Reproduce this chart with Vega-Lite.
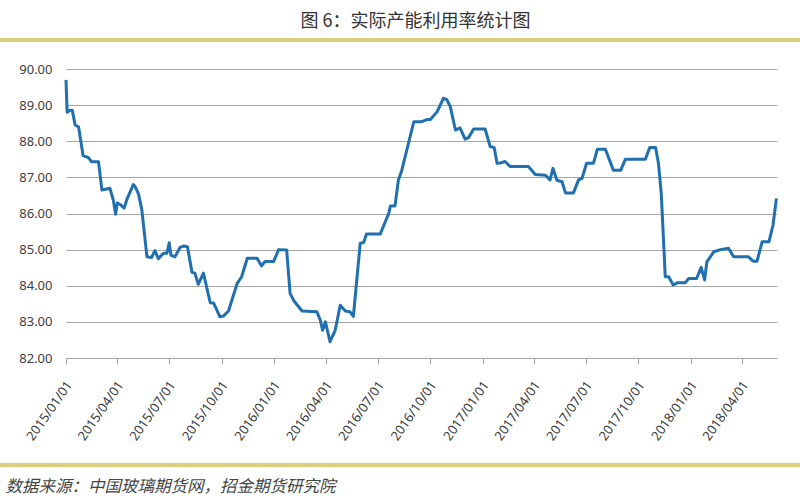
{
  "$schema": "https://vega.github.io/schema/vega-lite/v6.json",
  "width": 711,
  "height": 289,
  "autosize": "none",
  "padding": {"left": 66, "top": 69, "right": 23, "bottom": 142},
  "background": "white",
  "title": {
    "text": "图 6：实际产能利用率统计图",
    "anchor": "middle",
    "dx": -6,
    "offset": 7,
    "font": "Noto Sans CJK SC",
    "fontSize": 18,
    "fontWeight": "normal",
    "color": "#333333"
  },
  "config": {"view": {"stroke": null}},
  "layer": [
    {
      "data": {
        "values": [
          {"date": "2015-01-01", "rate": 89.7},
          {"date": "2015-01-03", "rate": 88.8},
          {"date": "2015-01-08", "rate": 88.86},
          {"date": "2015-01-12", "rate": 88.86},
          {"date": "2015-01-17", "rate": 88.45},
          {"date": "2015-01-23", "rate": 88.4},
          {"date": "2015-01-31", "rate": 87.6},
          {"date": "2015-02-09", "rate": 87.55},
          {"date": "2015-02-15", "rate": 87.43},
          {"date": "2015-02-27", "rate": 87.43},
          {"date": "2015-03-05", "rate": 86.65},
          {"date": "2015-03-19", "rate": 86.7},
          {"date": "2015-03-25", "rate": 86.37},
          {"date": "2015-03-29", "rate": 85.98},
          {"date": "2015-04-01", "rate": 86.29},
          {"date": "2015-04-06", "rate": 86.25},
          {"date": "2015-04-13", "rate": 86.15},
          {"date": "2015-04-18", "rate": 86.4},
          {"date": "2015-04-29", "rate": 86.8},
          {"date": "2015-05-02", "rate": 86.75},
          {"date": "2015-05-08", "rate": 86.55},
          {"date": "2015-05-14", "rate": 86.1},
          {"date": "2015-05-23", "rate": 84.8},
          {"date": "2015-05-31", "rate": 84.78},
          {"date": "2015-06-06", "rate": 84.97},
          {"date": "2015-06-12", "rate": 84.75},
          {"date": "2015-06-21", "rate": 84.9},
          {"date": "2015-06-27", "rate": 84.9},
          {"date": "2015-07-01", "rate": 85.19},
          {"date": "2015-07-04", "rate": 84.85},
          {"date": "2015-07-11", "rate": 84.8},
          {"date": "2015-07-20", "rate": 85.06},
          {"date": "2015-07-26", "rate": 85.1},
          {"date": "2015-08-02", "rate": 85.08},
          {"date": "2015-08-10", "rate": 84.37},
          {"date": "2015-08-15", "rate": 84.35},
          {"date": "2015-08-21", "rate": 84.04},
          {"date": "2015-08-30", "rate": 84.35},
          {"date": "2015-09-11", "rate": 83.53},
          {"date": "2015-09-17", "rate": 83.52},
          {"date": "2015-09-28", "rate": 83.14},
          {"date": "2015-10-04", "rate": 83.16},
          {"date": "2015-10-13", "rate": 83.3},
          {"date": "2015-10-28", "rate": 84.06},
          {"date": "2015-11-05", "rate": 84.25},
          {"date": "2015-11-15", "rate": 84.76},
          {"date": "2015-12-02", "rate": 84.76},
          {"date": "2015-12-10", "rate": 84.55},
          {"date": "2015-12-16", "rate": 84.67},
          {"date": "2015-12-31", "rate": 84.67},
          {"date": "2016-01-09", "rate": 85.0},
          {"date": "2016-01-23", "rate": 84.99},
          {"date": "2016-01-29", "rate": 83.79},
          {"date": "2016-02-04", "rate": 83.6},
          {"date": "2016-02-19", "rate": 83.3},
          {"date": "2016-03-16", "rate": 83.28},
          {"date": "2016-03-22", "rate": 83.05},
          {"date": "2016-03-26", "rate": 82.77},
          {"date": "2016-03-31", "rate": 83.0},
          {"date": "2016-04-08", "rate": 82.45},
          {"date": "2016-04-17", "rate": 82.76},
          {"date": "2016-04-26", "rate": 83.46},
          {"date": "2016-05-05", "rate": 83.3},
          {"date": "2016-05-13", "rate": 83.28},
          {"date": "2016-05-19", "rate": 83.15},
          {"date": "2016-05-31", "rate": 85.17},
          {"date": "2016-06-06", "rate": 85.2},
          {"date": "2016-06-11", "rate": 85.43},
          {"date": "2016-07-05", "rate": 85.43},
          {"date": "2016-07-20", "rate": 86.0},
          {"date": "2016-07-23", "rate": 86.21},
          {"date": "2016-07-31", "rate": 86.21},
          {"date": "2016-08-06", "rate": 86.93},
          {"date": "2016-08-12", "rate": 87.2},
          {"date": "2016-09-02", "rate": 88.54},
          {"date": "2016-09-16", "rate": 88.54},
          {"date": "2016-09-25", "rate": 88.6},
          {"date": "2016-10-01", "rate": 88.6},
          {"date": "2016-10-13", "rate": 88.82},
          {"date": "2016-10-24", "rate": 89.19},
          {"date": "2016-10-30", "rate": 89.15},
          {"date": "2016-11-05", "rate": 88.96},
          {"date": "2016-11-14", "rate": 88.31},
          {"date": "2016-11-22", "rate": 88.37},
          {"date": "2016-12-01", "rate": 88.06},
          {"date": "2016-12-07", "rate": 88.1},
          {"date": "2016-12-16", "rate": 88.34},
          {"date": "2017-01-05", "rate": 88.34},
          {"date": "2017-01-14", "rate": 87.85},
          {"date": "2017-01-21", "rate": 87.83},
          {"date": "2017-01-26", "rate": 87.39},
          {"date": "2017-02-01", "rate": 87.4},
          {"date": "2017-02-09", "rate": 87.44},
          {"date": "2017-02-18", "rate": 87.3},
          {"date": "2017-03-22", "rate": 87.3},
          {"date": "2017-04-03", "rate": 87.08},
          {"date": "2017-04-21", "rate": 87.06},
          {"date": "2017-04-29", "rate": 86.93},
          {"date": "2017-05-04", "rate": 87.25},
          {"date": "2017-05-11", "rate": 86.92},
          {"date": "2017-05-20", "rate": 86.88},
          {"date": "2017-05-26", "rate": 86.57},
          {"date": "2017-06-09", "rate": 86.57},
          {"date": "2017-06-18", "rate": 86.93},
          {"date": "2017-06-24", "rate": 86.97},
          {"date": "2017-07-02", "rate": 87.39},
          {"date": "2017-07-14", "rate": 87.39},
          {"date": "2017-07-21", "rate": 87.78},
          {"date": "2017-08-04", "rate": 87.78},
          {"date": "2017-08-18", "rate": 87.2},
          {"date": "2017-08-31", "rate": 87.2},
          {"date": "2017-09-08", "rate": 87.5},
          {"date": "2017-10-13", "rate": 87.5},
          {"date": "2017-10-21", "rate": 87.83},
          {"date": "2017-10-31", "rate": 87.83},
          {"date": "2017-11-05", "rate": 87.4},
          {"date": "2017-11-10", "rate": 86.56},
          {"date": "2017-11-17", "rate": 84.25},
          {"date": "2017-11-23", "rate": 84.25},
          {"date": "2017-12-01", "rate": 84.02},
          {"date": "2017-12-08", "rate": 84.08},
          {"date": "2017-12-22", "rate": 84.08},
          {"date": "2017-12-28", "rate": 84.2},
          {"date": "2018-01-11", "rate": 84.2},
          {"date": "2018-01-19", "rate": 84.51},
          {"date": "2018-01-25", "rate": 84.16},
          {"date": "2018-01-29", "rate": 84.66},
          {"date": "2018-02-10", "rate": 84.94},
          {"date": "2018-02-22", "rate": 85.0},
          {"date": "2018-03-08", "rate": 85.04},
          {"date": "2018-03-17", "rate": 84.8},
          {"date": "2018-04-12", "rate": 84.8},
          {"date": "2018-04-20", "rate": 84.68},
          {"date": "2018-04-27", "rate": 84.68},
          {"date": "2018-05-06", "rate": 85.22},
          {"date": "2018-05-18", "rate": 85.22},
          {"date": "2018-05-25", "rate": 85.68},
          {"date": "2018-05-31", "rate": 86.42}
        ]
      },
      "mark": {"type": "line", "stroke": "#2070b0", "strokeWidth": 3, "strokeJoin": "round"},
      "encoding": {
        "x": {
          "field": "date",
          "type": "temporal",
          "scale": {
            "type": "utc",
            "domain": [
              {"year": 2015, "month": 1, "date": 1, "utc": true},
              {"year": 2018, "month": 6, "date": 1, "utc": true}
            ]
          },
          "axis": {
            "values": [
              {"year": 2015, "month": 1, "date": 1, "utc": true},
              {"year": 2015, "month": 4, "date": 1, "utc": true},
              {"year": 2015, "month": 7, "date": 1, "utc": true},
              {"year": 2015, "month": 10, "date": 1, "utc": true},
              {"year": 2016, "month": 1, "date": 1, "utc": true},
              {"year": 2016, "month": 4, "date": 1, "utc": true},
              {"year": 2016, "month": 7, "date": 1, "utc": true},
              {"year": 2016, "month": 10, "date": 1, "utc": true},
              {"year": 2017, "month": 1, "date": 1, "utc": true},
              {"year": 2017, "month": 4, "date": 1, "utc": true},
              {"year": 2017, "month": 7, "date": 1, "utc": true},
              {"year": 2017, "month": 10, "date": 1, "utc": true},
              {"year": 2018, "month": 1, "date": 1, "utc": true},
              {"year": 2018, "month": 4, "date": 1, "utc": true}
            ],
            "format": "%Y/%m/%d",
            "labelAngle": -55,
            "labelOverlap": false,
            "labelFont": "Noto Sans",
            "labelFontSize": 13,
            "labelColor": "#3a3a3a",
            "labelPadding": 18,
            "labelOffset": 3,
            "grid": false,
            "domainColor": "#a6a6a6",
            "tickColor": "#a6a6a6",
            "tickSize": 6,
            "title": "数据来源：中国玻璃期货网，招金期货研究院",
            "titleFont": "Noto Sans CJK SC",
            "titleFontSize": 16.5,
            "titleFontStyle": "italic",
            "titleFontWeight": "normal",
            "titleColor": "#444444",
            "titleAnchor": "start",
            "titleAlign": "left",
            "titleBaseline": "alphabetic",
            "titleX": -61,
            "titleY": 133
          }
        },
        "y": {
          "field": "rate",
          "type": "quantitative",
          "scale": {"domain": [82, 90], "nice": false, "zero": false},
          "axis": {
            "values": [82, 83, 84, 85, 86, 87, 88, 89, 90],
            "labelOverlap": false,
            "format": ".2f",
            "title": null,
            "domain": false,
            "ticks": false,
            "gridColor": "#a6a6a6",
            "gridWidth": 1,
            "labelFont": "Noto Sans",
            "labelFontSize": 13,
            "labelColor": "#404040",
            "labelPadding": 14
          }
        }
      }
    },
    {
      "data": {"values": [{}]},
      "mark": {"type": "rule", "stroke": "#dbcf7e", "strokeWidth": 4, "clip": false},
      "encoding": {
        "x": {
          "datum": {"year": 2014, "month": 9, "date": 1, "utc": true},
          "type": "temporal",
          "axis": {
            "values": [
              {"year": 2015, "month": 1, "date": 1, "utc": true},
              {"year": 2015, "month": 4, "date": 1, "utc": true},
              {"year": 2015, "month": 7, "date": 1, "utc": true},
              {"year": 2015, "month": 10, "date": 1, "utc": true},
              {"year": 2016, "month": 1, "date": 1, "utc": true},
              {"year": 2016, "month": 4, "date": 1, "utc": true},
              {"year": 2016, "month": 7, "date": 1, "utc": true},
              {"year": 2016, "month": 10, "date": 1, "utc": true},
              {"year": 2017, "month": 1, "date": 1, "utc": true},
              {"year": 2017, "month": 4, "date": 1, "utc": true},
              {"year": 2017, "month": 7, "date": 1, "utc": true},
              {"year": 2017, "month": 10, "date": 1, "utc": true},
              {"year": 2018, "month": 1, "date": 1, "utc": true},
              {"year": 2018, "month": 4, "date": 1, "utc": true}
            ],
            "format": "%Y/%m/%d",
            "labelAngle": -55,
            "labelOverlap": false,
            "labelFont": "Noto Sans",
            "labelFontSize": 13,
            "labelColor": "#3a3a3a",
            "labelPadding": 18,
            "labelOffset": 3,
            "grid": false,
            "domainColor": "#a6a6a6",
            "tickColor": "#a6a6a6",
            "tickSize": 6,
            "title": "数据来源：中国玻璃期货网，招金期货研究院",
            "titleFont": "Noto Sans CJK SC",
            "titleFontSize": 16.5,
            "titleFontStyle": "italic",
            "titleFontWeight": "normal",
            "titleColor": "#444444",
            "titleAnchor": "start",
            "titleAlign": "left",
            "titleBaseline": "alphabetic",
            "titleX": -61,
            "titleY": 133
          }
        },
        "x2": {"datum": {"year": 2018, "month": 7, "date": 20, "utc": true}},
        "y": {
          "datum": 90.8,
          "type": "quantitative",
          "axis": {
            "values": [82, 83, 84, 85, 86, 87, 88, 89, 90],
            "labelOverlap": false,
            "format": ".2f",
            "title": null,
            "domain": false,
            "ticks": false,
            "gridColor": "#a6a6a6",
            "gridWidth": 1,
            "labelFont": "Noto Sans",
            "labelFontSize": 13,
            "labelColor": "#404040",
            "labelPadding": 14
          }
        }
      }
    },
    {
      "data": {"values": [{}]},
      "mark": {"type": "rule", "stroke": "#dbcf7e", "strokeWidth": 4, "clip": false},
      "encoding": {
        "x": {
          "datum": {"year": 2014, "month": 9, "date": 1, "utc": true},
          "type": "temporal",
          "axis": {
            "values": [
              {"year": 2015, "month": 1, "date": 1, "utc": true},
              {"year": 2015, "month": 4, "date": 1, "utc": true},
              {"year": 2015, "month": 7, "date": 1, "utc": true},
              {"year": 2015, "month": 10, "date": 1, "utc": true},
              {"year": 2016, "month": 1, "date": 1, "utc": true},
              {"year": 2016, "month": 4, "date": 1, "utc": true},
              {"year": 2016, "month": 7, "date": 1, "utc": true},
              {"year": 2016, "month": 10, "date": 1, "utc": true},
              {"year": 2017, "month": 1, "date": 1, "utc": true},
              {"year": 2017, "month": 4, "date": 1, "utc": true},
              {"year": 2017, "month": 7, "date": 1, "utc": true},
              {"year": 2017, "month": 10, "date": 1, "utc": true},
              {"year": 2018, "month": 1, "date": 1, "utc": true},
              {"year": 2018, "month": 4, "date": 1, "utc": true}
            ],
            "format": "%Y/%m/%d",
            "labelAngle": -55,
            "labelOverlap": false,
            "labelFont": "Noto Sans",
            "labelFontSize": 13,
            "labelColor": "#3a3a3a",
            "labelPadding": 18,
            "labelOffset": 3,
            "grid": false,
            "domainColor": "#a6a6a6",
            "tickColor": "#a6a6a6",
            "tickSize": 6,
            "title": "数据来源：中国玻璃期货网，招金期货研究院",
            "titleFont": "Noto Sans CJK SC",
            "titleFontSize": 16.5,
            "titleFontStyle": "italic",
            "titleFontWeight": "normal",
            "titleColor": "#444444",
            "titleAnchor": "start",
            "titleAlign": "left",
            "titleBaseline": "alphabetic",
            "titleX": -61,
            "titleY": 133
          }
        },
        "x2": {"datum": {"year": 2018, "month": 7, "date": 20, "utc": true}},
        "y": {
          "datum": 79.04,
          "type": "quantitative",
          "axis": {
            "values": [82, 83, 84, 85, 86, 87, 88, 89, 90],
            "labelOverlap": false,
            "format": ".2f",
            "title": null,
            "domain": false,
            "ticks": false,
            "gridColor": "#a6a6a6",
            "gridWidth": 1,
            "labelFont": "Noto Sans",
            "labelFontSize": 13,
            "labelColor": "#404040",
            "labelPadding": 14
          }
        }
      }
    }
  ]
}
